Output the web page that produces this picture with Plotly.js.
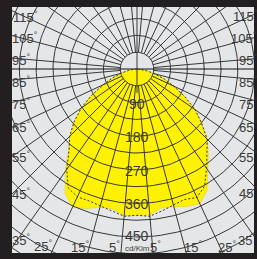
<!DOCTYPE html>
<html><head><meta charset="utf-8">
<script src="https://cdn.plot.ly/plotly-3.0.1.min.js"></script>
<style>html,body{margin:0;padding:0;background:#231f20;}#c{width:257px;height:259px;}</style>
</head><body><div id="c"></div>
<script>
// angles from nadir (deg); negative = left half (C180), positive = right half (C0)
const angles = [-90,-85,-80,-75,-70,-65,-60,-55,-50,-45,-40,-35,-30,-25,-20,-15,-10,-5,0,5,10,15,20,25,30,35,40,45,50,55,60,65,70,75,80,85,90];
// solid curve C0-C180 (cd/klm)
const solidCd = [0,9,24,45,70,100,140,182,220,255,285,335,385,408,398,383,380,395,392,392,378,382,392,398,375,332,297,266,226,190,148,108,78,48,26,10,0];
// dashed curve C90-C270 (cd/klm)
const dashedCd = [0,9,24,45,70,100,140,182,220,255,283,328,368,378,376,380,386,396,392,396,386,378,372,380,362,325,292,266,226,190,148,108,78,48,26,10,0];
const ringStep = 45, ringCount = 15;
const ringLabels = [90,180,270,360,450];
const spokeAngles = [5,15,25,35,45,55,65,75,85,95,105,115,125,135,145,155,165,175];
// edge angle labels: [text, px x, px y]
const edgeLabels = [
 ["115",25,17],["105",25,38],["95",21,60],["85",21,82],["75",21,104],["65",21,127],["55",21,157],["45",21,194],["35",21,240],
 ["25",43,246],["15",80,247],["5",114,247],
 ["115",245,16],["105",244,38],["95",248,60],["85",248,82],["75",248,104],["65",248,127],["55",248,157],["45",248,193],["35",247,240],
 ["25",227,247],["15",193,247],["5",155,247]
];
const S = 0.3733, CX = 137, CY = 69;
const px2x = p => (p-CX)/S, py2y = p => -(p-CY)/S;
const rad = d => d*Math.PI/180;
function toXY(angs, cds){
  return {x: angs.map((a,i)=>cds[i]*Math.sin(rad(a))), y: angs.map((a,i)=>-cds[i]*Math.cos(rad(a)))};
}
const traces = [];
const sol = toXY(angles, solidCd);
traces.push({type:'scatter',mode:'lines',x:sol.x,y:sol.y,fill:'toself',fillcolor:'#fff200',line:{width:0.6,color:'#e8d800'},hoverinfo:'skip'});
const gridColor = '#383838';
// rings
for(let k=1;k<=ringCount;k++){
  const r=k*ringStep, xs=[], ys=[];
  for(let a=0;a<=360;a+=2){xs.push(r*Math.sin(rad(a)));ys.push(-r*Math.cos(rad(a)));}
  traces.push({type:'scatter',mode:'lines',x:xs,y:ys,line:{color:gridColor,width:1},hoverinfo:'skip'});
}
// spokes
spokeAngles.forEach(a=>{
  [a,-a].forEach(b=>{
    traces.push({type:'scatter',mode:'lines',x:[ringStep*Math.sin(rad(b)),800*Math.sin(rad(b))],y:[-ringStep*Math.cos(rad(b)),-800*Math.cos(rad(b))],line:{color:gridColor,width:1},hoverinfo:'skip'});
  });
});
// axes lines
traces.push({type:'scatter',mode:'lines',x:[-800,800],y:[0,0],line:{color:'#111',width:1.2},hoverinfo:'skip'});
traces.push({type:'scatter',mode:'lines',x:[0,0],y:[800,-64],line:{color:gridColor,width:1},hoverinfo:'skip'});
// dashed curve
const dsh = toXY(angles, dashedCd);
traces.push({type:'scatter',mode:'lines',x:dsh.x,y:dsh.y,line:{color:'#333',width:1,dash:'2px,2px'},hoverinfo:'skip'});

const font = {family:'Liberation Sans, Arial, sans-serif',size:13,color:'#3a3a3a'};
const ann = [];
ringLabels.forEach(v=>ann.push({x:0,y:-v,text:String(v),showarrow:false,font:{...font,size:14},xanchor:'center',yanchor:'middle',yshift:(v===450?1:-1)}));
ann.push({x:0,y:py2y(248),text:'cd/Klm',showarrow:false,font:{...font,size:8},xanchor:'center',yanchor:'middle'});
edgeLabels.forEach(([t,x,y])=>ann.push({x:px2x(x),y:py2y(y),text:t+'<sup>°</sup>',showarrow:false,font:font,xanchor:'center',yanchor:'middle'}));

const layout = {
  width:257,height:259,margin:{l:12,r:3,t:7,b:6},
  paper_bgcolor:'#231f20',plot_bgcolor:'#e5e6e8',showlegend:false,
  xaxis:{range:[px2x(12),px2x(254)],visible:false,fixedrange:true},
  yaxis:{range:[py2y(253),py2y(7)],visible:false,fixedrange:true},
  annotations:ann
};
Plotly.newPlot('c',traces,layout,{staticPlot:true,displayModeBar:false});
</script></body></html>
